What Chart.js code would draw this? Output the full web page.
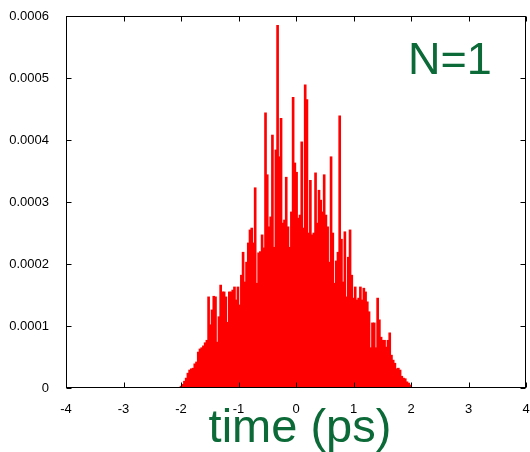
<!DOCTYPE html>
<html>
<head>
<meta charset="utf-8">
<script src="https://cdn.jsdelivr.net/npm/chart.js@4"></script>
<style>
  body { margin: 0; background: #fff; }
  #wrap { width: 530px; height: 452px; }
</style>
</head>
<body>
<div id="wrap"><canvas id="pulseChart" width="530" height="452"></canvas></div>
<script>
// time axis (ps)
const times = [
    -2.00,-1.97,-1.94,-1.91,-1.88,-1.85,-1.82,-1.79,-1.76,-1.73,
    -1.70,-1.67,-1.64,-1.61,-1.58,-1.55,-1.52,-1.49,-1.46,-1.43,
    -1.40,-1.37,-1.34,-1.31,-1.28,-1.25,-1.22,-1.19,-1.16,-1.13,
    -1.10,-1.07,-1.04,-1.01,-0.98,-0.95,-0.92,-0.89,-0.86,-0.83,
    -0.80,-0.77,-0.74,-0.71,-0.68,-0.65,-0.62,-0.59,-0.56,-0.53,
    -0.50,-0.47,-0.44,-0.41,-0.38,-0.35,-0.32,-0.29,-0.26,-0.23,
    -0.20,-0.17,-0.14,-0.11,-0.08,-0.05,-0.02,0.01,0.04,0.07,
    0.10,0.13,0.16,0.19,0.22,0.25,0.28,0.31,0.34,0.37,
    0.40,0.43,0.46,0.49,0.52,0.55,0.58,0.61,0.64,0.67,
    0.70,0.73,0.76,0.79,0.82,0.85,0.88,0.91,0.94,0.97,
    1.00,1.03,1.06,1.09,1.12,1.15,1.18,1.21,1.24,1.27,
    1.30,1.33,1.36,1.39,1.42,1.45,1.48,1.51,1.54,1.57,
    1.60,1.63,1.66,1.69,1.72,1.75,1.78,1.81,1.84,1.87,
    1.90,1.93,1.96,1.99
];

const intensity = [
    0.000003,0.000006,0.000011,0.000016,0.000024,0.000029,0.000031,0.000032,0.000039,0.000042,
    0.000058,0.000063,0.000065,0.000068,0.000073,0.000077,0.000147,0.000102,0.000126,0.000148,
    0.000147,0.000074,0.000115,0.000166,0.000155,0.000155,0.000147,0.000106,0.000155,0.000155,
    0.000158,0.000163,0.000142,0.000163,0.000134,0.000182,0.000219,0.000171,0.000203,0.000234,
    0.000255,0.000258,0.000234,0.000323,0.000169,0.000218,0.000220,0.000247,0.000226,0.000444,
    0.000344,0.000260,0.000276,0.000408,0.000227,0.000384,0.000585,0.000373,0.000435,0.000266,
    0.000271,0.000340,0.000260,0.000227,0.000284,0.000469,0.000363,0.000348,0.000274,0.000279,
    0.000397,0.000258,0.000489,0.000465,0.000250,0.000335,0.000247,0.000250,0.000347,0.000266,
    0.000319,0.000303,0.000284,0.000344,0.000279,0.000260,0.000203,0.000373,0.000250,0.000169,
    0.000205,0.000219,0.000439,0.000240,0.000171,0.000252,0.000147,0.000211,0.000255,0.000182,
    0.000145,0.000163,0.000142,0.000145,0.000163,0.000142,0.000161,0.000155,0.000139,0.000123,
    0.000065,0.000105,0.000105,0.000065,0.000145,0.000110,0.000082,0.000077,0.000077,0.000066,
    0.000077,0.000089,0.000053,0.000045,0.000040,0.000031,0.000032,0.000029,0.000019,0.000016,
    0.000015,0.000010,0.000008,0.000005
];

const xTicks = [-4, -3, -2, -1, 0, 1, 2, 3, 4];
const yTicks = [0, 0.0001, 0.0002, 0.0003, 0.0004, 0.0005, 0.0006];

const green = '#0b6a37';
const fontName = '"Liberation Sans", Arial, sans-serif';

// frame box + inward ticks on all four sides, plus the two big labels
const framePlugin = {
    id: 'frame',
    afterDraw(chart) {
        const c = chart.ctx;
        const a = chart.chartArea;
        const xs = chart.scales.x, ys = chart.scales.y;
        const L = Math.round(a.left) + 0.5, R = Math.round(a.right) - 0.5;
        const T = Math.round(a.top) + 0.5, B = Math.round(a.bottom) - 0.5;
        c.save();
        c.strokeStyle = '#000';
        c.lineWidth = 1;
        c.strokeRect(L, T, R - L, B - T);
        c.beginPath();
        xTicks.forEach(v => {
            const px = Math.round(xs.getPixelForValue(v)) + 0.5;
            c.moveTo(px, B); c.lineTo(px, B - 5);
            c.moveTo(px, T); c.lineTo(px, T + 5);
        });
        yTicks.forEach(v => {
            const py = Math.round(ys.getPixelForValue(v)) + 0.5;
            c.moveTo(L, py); c.lineTo(L + 5, py);
            c.moveTo(R, py); c.lineTo(R - 5, py);
        });
        c.stroke();

        c.fillStyle = green;
        c.font = '47px ' + fontName;
        c.textAlign = 'center';
        c.textBaseline = 'alphabetic';
        c.fillText('time (ps)', 300, 442);
        c.font = '45px ' + fontName;
        c.textAlign = 'left';
        c.fillText('N=1', 408, 74);
        c.restore();
    }
};

const ctx = document.getElementById('pulseChart');

new Chart(ctx, {
    type: 'bar',
    data: {
        datasets: [{
            data: times.map((t, i) => ({ x: t, y: intensity[i] })),
            backgroundColor: '#ff0000',
            borderWidth: 0,
            barThickness: 2
        }]
    },
    options: {
        responsive: false,
        animation: false,
        layout: { padding: { top: 16, right: 4, left: 0, bottom: 0 } },
        plugins: {
            legend: { display: false },
            tooltip: { enabled: false }
        },
        scales: {
            x: {
                type: 'linear',
                min: -4,
                max: 4,
                offset: false,
                afterBuildTicks: s => { s.ticks = xTicks.map(v => ({ value: v })); },
                afterFit: s => { s.height = 64; s.paddingLeft = 0; s.paddingRight = 0; },
                grid: { display: false, offset: false },
                border: { display: false },
                ticks: {
                    padding: 6,
                    color: '#000',
                    font: { family: fontName, size: 13 },
                    maxRotation: 0,
                    callback: v => String(v)
                }
            },
            y: {
                min: 0,
                max: 0.0006,
                afterBuildTicks: s => { s.ticks = yTicks.map(v => ({ value: v })); },
                afterFit: s => { s.width = 66; s.paddingTop = 0; s.paddingBottom = 0; },
                grid: { display: false },
                border: { display: false },
                ticks: {
                    padding: 9,
                    color: '#000',
                    font: { family: fontName, size: 13 },
                    callback: v => v === 0 ? '0' : v.toFixed(4)
                }
            }
        }
    },
    plugins: [framePlugin]
});
</script>
</body>
</html>
